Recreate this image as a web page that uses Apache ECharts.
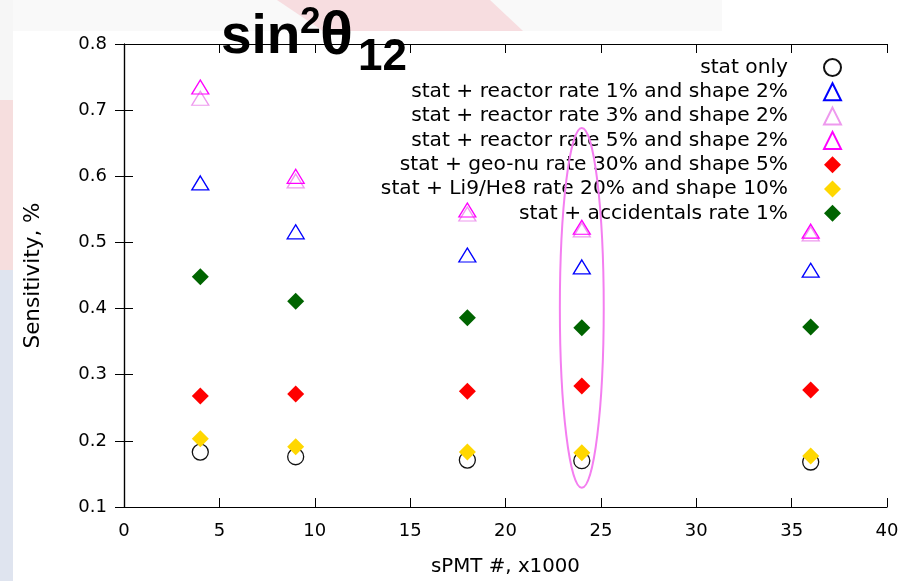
<!DOCTYPE html>
<html><head><meta charset="utf-8">
<script src="https://cdn.jsdelivr.net/npm/echarts@6/dist/echarts.min.js"></script>
<style>html,body{margin:0;padding:0;background:#fff}#c{width:918px;height:581px}</style>
</head><body><div id="c"></div>
<script>
// ---- data ----
const sPMT = [4, 9, 18, 24, 36];
const statOnly     = [0.183, 0.176, 0.171, 0.170, 0.168];
const reactor1     = [0.590, 0.516, 0.481, 0.463, 0.458];
const reactor3     = [0.718, 0.593, 0.543, 0.519, 0.513];
const reactor5     = [0.735, 0.600, 0.549, 0.523, 0.517];
const geoNu        = [0.268, 0.271, 0.275, 0.283, 0.277];
const li9He8       = [0.203, 0.191, 0.183, 0.182, 0.177];
const accidentals  = [0.448, 0.411, 0.386, 0.371, 0.372];
const seriesNames = [
  'stat only',
  'stat + reactor rate 1% and shape 2%',
  'stat + reactor rate 3% and shape 2%',
  'stat + reactor rate 5% and shape 2%',
  'stat + geo-nu rate 30% and shape 5%',
  'stat + Li9/He8 rate 20% and shape 10%',
  'stat + accidentals rate 1%'
];
const xTicks = [0, 5, 10, 15, 20, 25, 30, 35, 40];
const yTicks = [0.1, 0.2, 0.3, 0.4, 0.5, 0.6, 0.7, 0.8];
const ellipseCenter = [24, 0.401];
const ellipseHalf = [1.15, 0.272];

const pairs = v => sPMT.map((x, i) => [x, v[i]]);
const FONT = 'DejaVu Sans';

function hollow(name, vals, color, symbol, size) {
  return {
    name, type: 'scatter', data: pairs(vals), symbol, symbolSize: size,
    itemStyle: { color: 'transparent', borderColor: color, borderWidth: 1.3, opacity: 1 },
    emphasis: { disabled: true }, silent: true
  };
}
function filled(name, vals, color) {
  return {
    name, type: 'scatter', data: pairs(vals), symbol: 'diamond', symbolSize: 17,
    itemStyle: { color: color, borderWidth: 0, opacity: 1 },
    emphasis: { disabled: true }, silent: true
  };
}

const chart = echarts.init(document.getElementById('c'), null, { renderer: 'canvas' });
const axisLine = { show: true, lineStyle: { color: '#000', width: 1.2 } };
const tick = { show: true, inside: true, length: 9, lineStyle: { color: '#000', width: 1 } };

chart.setOption({
  animation: false,
  backgroundColor: '#fff',
  grid: { left: 124, right: 31, top: 44, bottom: 74, containLabel: false, outerBoundsMode: 'none' },
  legend: {
    orient: 'vertical', align: 'right', right: 76, top: 57, padding: 0,
    itemWidth: 17, itemHeight: 17, itemGap: 3.3,
    selectedMode: false,
    textStyle: { fontFamily: FONT, fontSize: 20.2, color: '#000', lineHeight: 21, padding: [0, 31, 0, 0] },
    data: seriesNames
  },
  xAxis: [
    { type: 'value', min: 0, max: 40, interval: 5, position: 'bottom',
      name: 'sPMT #, x1000', nameLocation: 'middle', nameGap: 50,
      nameTextStyle: { fontFamily: FONT, fontSize: 19.8, color: '#000' },
      axisLine, axisTick: tick, splitLine: { show: false },
      axisLabel: { fontFamily: FONT, fontSize: 18, color: '#000', margin: 15,
        formatter: v => xTicks.includes(v) ? String(v) : '' } },
    { type: 'value', min: 0, max: 40, interval: 5, position: 'top',
      axisLine, axisTick: tick, splitLine: { show: false }, axisLabel: { show: false } }
  ],
  yAxis: [
    { type: 'value', min: 0.1, max: 0.8, interval: 0.1, position: 'left',
      name: 'Sensitivity, %', nameLocation: 'middle', nameGap: 80, nameRotate: 90,
      nameTextStyle: { fontFamily: FONT, fontSize: 21.5, color: '#000' },
      axisLine, axisTick: tick, splitLine: { show: false },
      axisLabel: { fontFamily: FONT, fontSize: 18, color: '#000', margin: 17,
        formatter: v => { const t = yTicks.find(y => Math.abs(y - v) < 1e-6); return t !== undefined ? t.toFixed(1) : ''; } } },
    { type: 'value', min: 0.1, max: 0.8, interval: 0.1, position: 'right',
      axisLine, axisTick: tick, splitLine: { show: false }, axisLabel: { show: false } }
  ],
  series: [
    hollow(seriesNames[0], statOnly, '#111', 'circle', 16),
    hollow(seriesNames[1], reactor1, '#0000ff', 'triangle', [17, 14]),
    hollow(seriesNames[2], reactor3, '#ee99ee', 'triangle', [17, 14]),
    hollow(seriesNames[3], reactor5, '#ff00ff', 'triangle', [17, 14]),
    filled(seriesNames[4], geoNu, '#ff0000'),
    filled(seriesNames[5], li9He8, '#ffd700'),
    filled(seriesNames[6], accidentals, '#006400')
  ]
});

// annotation ellipse + slide background + title
const c = chart.convertToPixel({ gridIndex: 0 }, ellipseCenter);
const e1 = chart.convertToPixel({ gridIndex: 0 }, [ellipseCenter[0] + ellipseHalf[0], ellipseCenter[1] + ellipseHalf[1]]);
const rx = e1[0] - c[0], ry = c[1] - e1[1];

chart.setOption({
  graphic: [
    { type: 'rect', z: -10, shape: { x: 0, y: 0, width: 722, height: 31 }, style: { fill: '#f9f9f9' }, silent: true },
    { type: 'polygon', z: -9, shape: { points: [[277, 0], [490, 0], [523, 31], [323, 31]] }, style: { fill: '#f7dde0' }, silent: true },
    { type: 'rect', z: -10, shape: { x: 0, y: 0, width: 13, height: 100 }, style: { fill: '#f6f6f6' }, silent: true },
    { type: 'rect', z: -10, shape: { x: 0, y: 100, width: 13, height: 170 }, style: { fill: '#f6dede' }, silent: true },
    { type: 'rect', z: -10, shape: { x: 0, y: 270, width: 13, height: 311 }, style: { fill: '#dfe4ef' }, silent: true },
    { type: 'ellipse', z: 10, shape: { cx: c[0], cy: c[1], rx: rx, ry: ry },
      style: { fill: 'none', stroke: '#f47ef0', lineWidth: 2 }, silent: true },
    { type: 'text', z: 20, x: 221, y: 65, style: { text: 'sin', font: 'bold 55px "Liberation Sans"', fill: '#000', verticalAlign: 'bottom' } },
    { type: 'text', z: 20, x: 300, y: 4, style: { text: '2', font: 'bold 37px "Liberation Sans"', fill: '#000', verticalAlign: 'top' } },
    { type: 'text', z: 20, x: 320, y: 68, style: { text: 'θ', font: 'bold 61px "Liberation Sans"', fill: '#000', verticalAlign: 'bottom' } },
    { type: 'text', z: 20, x: 358, y: 80, style: { text: '12', font: 'bold 44px "Liberation Sans"', fill: '#000', verticalAlign: 'bottom' } }
  ]
});
</script></body></html>
